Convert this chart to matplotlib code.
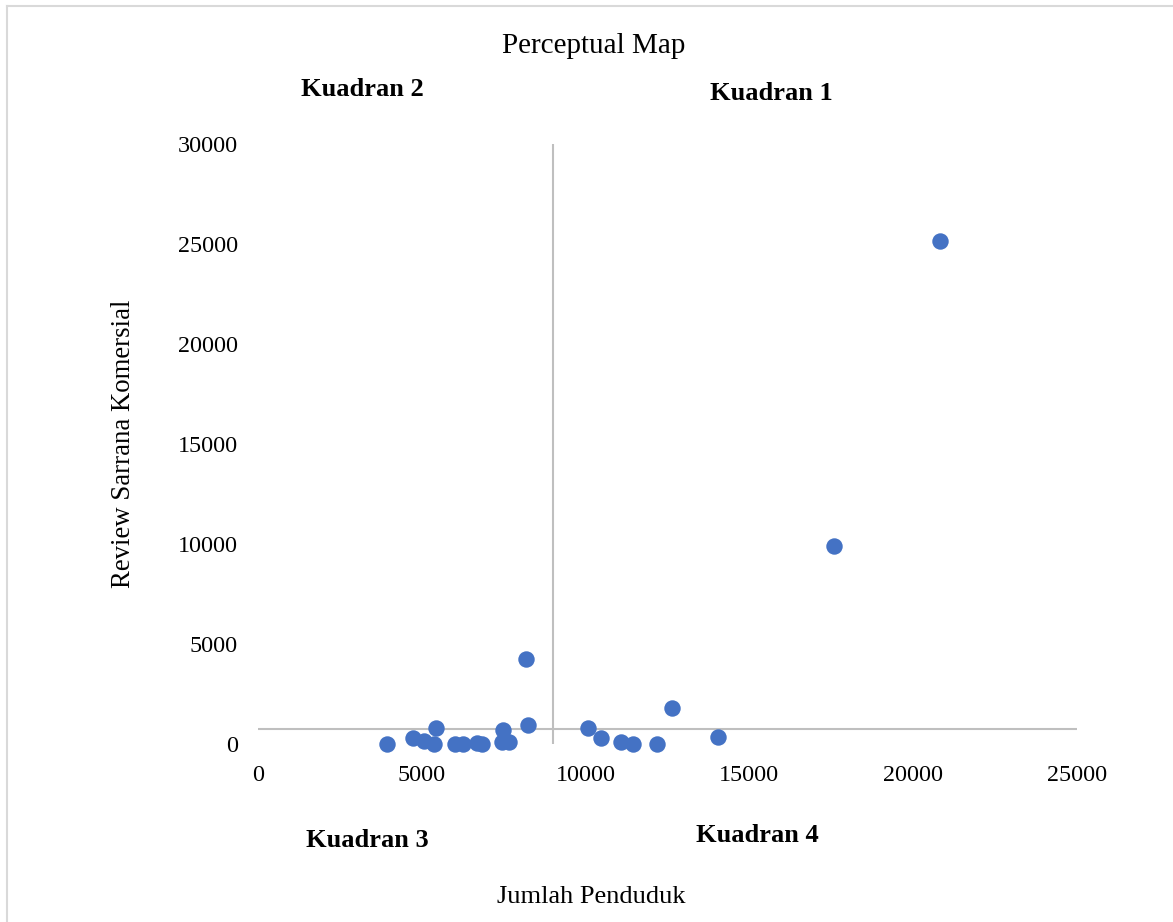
import matplotlib.pyplot as plt
from matplotlib.lines import Line2D

# data
jumlah_penduduk = [3930, 4740, 5070, 5420, 5380, 6010, 6270, 6680, 6850, 7490, 7460,
                   7660, 8180, 8250, 10060, 10460, 11070, 11460, 12190, 12630, 14030,
                   17580, 20820]
review_komersial = [0, 290, 150, 790, 0, 0, 0, 70, 0, 700, 90,
                    90, 4270, 950, 820, 320, 90, 0, 0, 1820, 340,
                    9900, 25150]

x_ticks = [0, 5000, 10000, 15000, 20000, 25000]
y_ticks = [0, 5000, 10000, 15000, 20000, 25000, 30000]
x_cross = 9000
y_cross = 750

W, H = 1173, 922
plt.rcParams['font.family'] = ['Liberation Serif', 'DejaVu Serif']

fig = plt.figure(figsize=(W / 100, H / 100), dpi=100)
ax = fig.add_axes([258 / W, 1 - 744 / H, (1077 - 258) / W, (744 - 144) / H])

ax.axhline(y_cross, color="#BFBFBF", lw=1.5, zorder=1)
ax.axvline(x_cross, color="#BFBFBF", lw=1.5, zorder=1)
ax.scatter(jumlah_penduduk, review_komersial, s=140, color="#4472C4", zorder=3,
           linewidths=0, clip_on=False)

ax.set_xlim(0, 25000)
ax.set_ylim(0, 30000)
for s in ax.spines.values():
    s.set_visible(False)
ax.set_xticks(x_ticks)
ax.set_yticks(y_ticks)
ax.tick_params(length=0, labelsize=17.4, colors="#000000")
ax.tick_params(axis="x", pad=15)
ax.tick_params(axis="y", pad=14.5)


def px(x, y):
    return x / W, 1 - y / H


fig.text(*px(594, 46), "Perceptual Map", ha="center", va="center", fontsize=21)
fig.text(*px(362, 89), "Kuadran 2", ha="center", va="center", fontsize=19, fontweight="bold")
fig.text(*px(771, 94), "Kuadran 1", ha="center", va="center", fontsize=19, fontweight="bold")
fig.text(*px(367, 840), "Kuadran 3", ha="center", va="center", fontsize=19, fontweight="bold")
fig.text(*px(757, 835), "Kuadran 4", ha="center", va="center", fontsize=19, fontweight="bold")
fig.text(*px(591, 897), "Jumlah Penduduk", ha="center", va="center", fontsize=19)
fig.text(*px(124, 444), "Review Sarrana Komersial", ha="center", va="center",
         fontsize=19.3, rotation=90)

# light frame on top and left edge
fig.add_artist(Line2D([6.5 / W, 1], [1 - 6.5 / H, 1 - 6.5 / H], color="#D9D9D9", lw=1.5,
                      transform=fig.transFigure))
fig.add_artist(Line2D([6.5 / W, 6.5 / W], [0, 1 - 6.5 / H], color="#D9D9D9", lw=1.5,
                      transform=fig.transFigure))

fig.savefig("out.png", dpi=100, facecolor="white")
